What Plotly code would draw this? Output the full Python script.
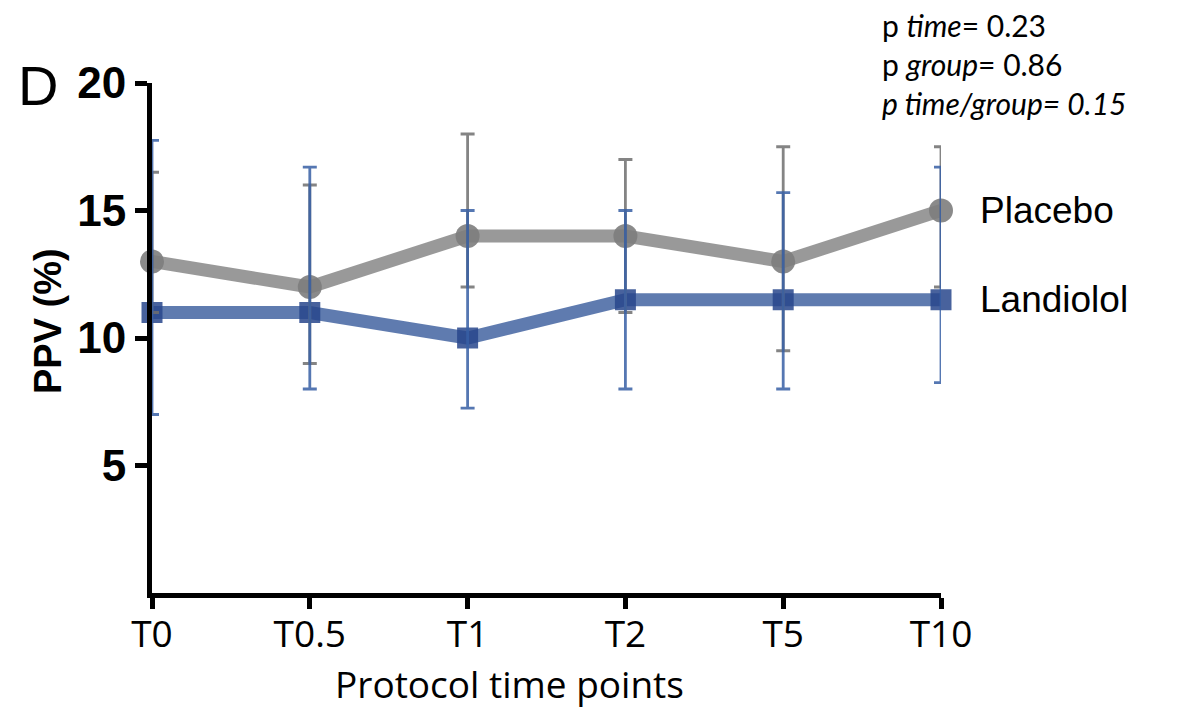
import plotly.graph_objects as go

categories = ["T0", "T0.5", "T1", "T2", "T5", "T10"]

placebo = [13, 12, 14, 14, 13, 15]
placebo_hi = [16.5, 16, 18, 17, 17.5, 17.5]
placebo_lo = [11, 9, 12, 11, 9.5, 12]

landiolol = [11, 11, 10, 11.5, 11.5, 11.5]
landiolol_hi = [17.75, 16.7, 15, 15, 15.7, 16.7]
landiolol_lo = [7, 8, 7.25, 8, 8, 8.25]

y_ticks = [5, 10, 15, 20]

p_lines = ["p <i>time</i>= 0.23", "p <i>group</i>= 0.86", "<i>p time/group= 0.15</i>"]

GRAY_LINE = "rgba(135,135,135,0.85)"
GRAY_MARK = "rgba(125,125,125,0.9)"
GRAY_ERR = "rgba(110,110,110,0.85)"
BLUE_LINE = "rgba(55,90,155,0.8)"
BLUE_MARK = "rgba(40,70,140,0.85)"
BLUE_ERR = "rgba(55,95,165,0.85)"

fig = go.Figure()

fig.add_trace(go.Scatter(
    x=categories, y=placebo, mode="lines+markers", name="Placebo",
    line=dict(color=GRAY_LINE, width=13),
    marker=dict(symbol="circle", size=24, color=GRAY_MARK),
    cliponaxis=False, showlegend=False))

fig.add_trace(go.Scatter(
    x=categories, y=landiolol, mode="lines+markers", name="Landiolol",
    line=dict(color=BLUE_LINE, width=13),
    marker=dict(symbol="square", size=21, color=BLUE_MARK),
    cliponaxis=False, showlegend=False))

# error bars (drawn on top)
fig.add_trace(go.Scatter(
    x=categories, y=placebo, mode="markers",
    marker=dict(size=1, color="rgba(0,0,0,0)"),
    error_y=dict(type="data", symmetric=False,
                 array=[h - v for h, v in zip(placebo_hi, placebo)],
                 arrayminus=[v - l for l, v in zip(placebo_lo, placebo)],
                 color=GRAY_ERR, thickness=2.8, width=7),
    cliponaxis=False, showlegend=False, hoverinfo="skip"))

fig.add_trace(go.Scatter(
    x=categories, y=landiolol, mode="markers",
    marker=dict(size=1, color="rgba(0,0,0,0)"),
    error_y=dict(type="data", symmetric=False,
                 array=[h - v for h, v in zip(landiolol_hi, landiolol)],
                 arrayminus=[v - l for l, v in zip(landiolol_lo, landiolol)],
                 color=BLUE_ERR, thickness=2.8, width=7),
    cliponaxis=False, showlegend=False, hoverinfo="skip"))

# page body adds an 8px offset; work in screen pixels and subtract it
OFF = 8
SCREEN_W, SCREEN_H = 1186, 708
W, H = SCREEN_W - OFF, SCREEN_H - OFF
X0, X1 = 152, 941   # screen px of plot area
Y0, Y1 = 83, 593
L, T = X0 - OFF, Y0 - OFF
R, B = W - (X1 - OFF), H - (Y1 - OFF)
pw, ph = X1 - X0, Y1 - Y0

def px(xs):
    return (xs - X0) / pw

def py(ys):
    return (Y1 - ys) / ph

annotations = [
    dict(text="D", xref="paper", yref="paper", x=px(38), y=py(86),
         xanchor="center", yanchor="middle", showarrow=False,
         font=dict(family="Liberation Sans", size=56, color="black")),
    dict(text="PPV (%)", xref="paper", yref="paper", x=px(48), y=py(321),
         xanchor="center", yanchor="middle", showarrow=False, textangle=-90,
         font=dict(family="Liberation Sans", size=38, color="black", weight="bold")),
    dict(text="Protocol time points", xref="paper", yref="paper", x=px(509), y=py(683),
         xanchor="center", yanchor="middle", showarrow=False, borderpad=0,
         font=dict(family="Open Sans", size=37, color="black")),
    dict(text="Placebo", xref="paper", yref="y", x=px(978), y=placebo[-1],
         xanchor="left", yanchor="middle", showarrow=False,
         font=dict(family="Liberation Sans", size=37, color="black")),
    dict(text="Landiolol", xref="paper", yref="y", x=px(978), y=landiolol[-1],
         xanchor="left", yanchor="middle", showarrow=False,
         font=dict(family="Liberation Sans", size=37, color="black")),
    dict(text="<br>".join(p_lines), xref="paper", yref="paper", x=px(881), y=py(64),
         xanchor="left", yanchor="middle", align="left", showarrow=False, borderpad=0,
         font=dict(family="Lato", size=30, color="black")),
]

fig.update_layout(
    width=W, height=H,
    margin=dict(l=L, r=R, t=T, b=B),
    paper_bgcolor="white", plot_bgcolor="white",
    xaxis=dict(
        type="category", categoryorder="array", categoryarray=categories,
        range=[0, len(categories) - 1],
        showgrid=False, zeroline=False,
        showline=True, linecolor="black", linewidth=5,
        ticks="outside", ticklen=11, tickwidth=5, tickcolor="black",
        ticklabelstandoff=-6,
        tickfont=dict(family="Open Sans", size=37, color="black"),
    ),
    yaxis=dict(
        range=[0, 20], tickvals=y_ticks,
        showgrid=False, zeroline=False,
        showline=True, linecolor="black", linewidth=5,
        ticks="outside", ticklen=12, tickwidth=5, tickcolor="black",
        tickfont=dict(family="Liberation Sans", size=44, color="black", weight="bold"),
    ),
    annotations=annotations,
)

fig.write_html("out.html")
